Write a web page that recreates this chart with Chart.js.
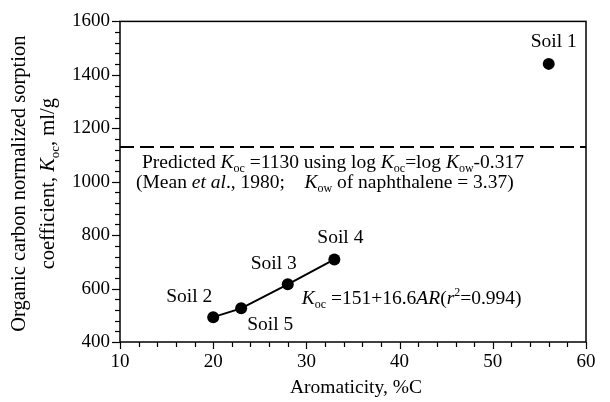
<!DOCTYPE html>
<html>
<head>
<meta charset="utf-8">
<script src="https://cdn.jsdelivr.net/npm/chart.js@4.4.1/dist/chart.umd.min.js"></script>
<style>
  html, body { margin: 0; padding: 0; background: #fff; }
  #wrap { width: 610px; height: 402px; }
</style>
</head>
<body>
<div id="wrap"><canvas id="sorptionChart" width="610" height="402"></canvas></div>
<script>
// DATA
const soilNames = ["Soil 2", "Soil 5", "Soil 3", "Soil 4"];
const aromaticity = [20, 23, 28, 33];
const kocValues = [493, 526, 616, 709];

const outlierName = "Soil 1";
const outlierAromaticity = [56];
const outlierKoc = [1441];

const predictedKoc = 1130;
const xRange = [10, 60];
const yRange = [400, 1600];
const xTickStep = 10, xMinorStep = 2;
const yTickStep = 200, yMinorStep = 40;

const FONT = '"Liberation Serif", "Times New Roman", serif';

//UTILS FUNCS

// draws a list of [text, style] pieces; style: n, i, sub, sup
function drawRich(ctx, parts, x, y, size, align) {
    let widths = parts.map(p => {
        ctx.font = fontFor(p[1], size);
        return ctx.measureText(p[0]).width;
    });
    let total = widths.reduce((a, b) => a + b, 0);
    let cx = align === "center" ? x - total / 2 : (align === "right" ? x - total : x);
    ctx.textBaseline = "middle";
    ctx.textAlign = "left";
    parts.forEach((p, i) => {
        ctx.font = fontFor(p[1], size);
        let dy = 0;
        if (p[1] === "sub") dy = size * 0.3;
        if (p[1] === "sup") dy = -size * 0.35;
        ctx.fillText(p[0], cx, y + dy);
        cx += widths[i];
    });
}

function fontFor(style, size) {
    if (style === "i") return "italic " + size + "px " + FONT;
    if (style === "sub" || style === "sup") return Math.round(size * 0.62) + "px " + FONT;
    return size + "px " + FONT;
}

//PLUGIN for frame, minor ticks and text
const decorations = {
    id: "decorations",
    afterDraw(chart) {
        let ctx = chart.ctx;
        let area = chart.chartArea;
        let xs = chart.scales.x, ys = chart.scales.y;
        ctx.save();
        ctx.strokeStyle = "#000";
        ctx.fillStyle = "#000";

        // frame
        ctx.lineWidth = 1.5;
        ctx.strokeRect(area.left, area.top, area.right - area.left, area.bottom - area.top);

        // y ticks (outside, left)
        ctx.lineWidth = 1.2;
        for (let v = yRange[0]; v <= yRange[1]; v += yMinorStep) {
            let py = Math.round(ys.getPixelForValue(v)) + 0.5;
            let len = (v % yTickStep === 0) ? 8 : 5;
            ctx.beginPath();
            ctx.moveTo(area.left - len, py);
            ctx.lineTo(area.left, py);
            ctx.stroke();
        }
        // x ticks (outside, down)
        for (let v = xRange[0]; v <= xRange[1]; v += xMinorStep) {
            let px = Math.round(xs.getPixelForValue(v)) + 0.5;
            let len = (v % xTickStep === 0) ? 7 : 5;
            ctx.beginPath();
            ctx.moveTo(px, area.bottom);
            ctx.lineTo(px, area.bottom + len);
            ctx.stroke();
        }

        // axis titles
        drawRich(ctx, [["Aromaticity, %C", "n"]], (area.left + area.right) / 2 + 3, 388, 19.5, "center");

        let midY = (area.top + area.bottom) / 2 + 2;
        ctx.save();
        ctx.translate(20, midY);
        ctx.rotate(-Math.PI / 2);
        drawRich(ctx, [["Organic carbon normalized sorption", "n"]], 0, 0, 20.5, "center");
        ctx.restore();
        ctx.save();
        ctx.translate(49, midY);
        ctx.rotate(-Math.PI / 2);
        drawRich(ctx, [["coefficient, ", "n"], ["K", "i"], ["oc", "sub"], [", ml/g", "n"]], 0, 0, 20.5, "center");
        ctx.restore();

        // soil labels, placed relative to their points
        let labelOffsets = {
            "Soil 2": [-1, -20, "right"],
            "Soil 5": [6, 17, "left"],
            "Soil 3": [-14, -20, "center"],
            "Soil 4": [6, -22, "center"]
        };
        soilNames.forEach((name, i) => {
            let px = xs.getPixelForValue(aromaticity[i]);
            let py = ys.getPixelForValue(kocValues[i]);
            let o = labelOffsets[name];
            drawRich(ctx, [[name, "n"]], px + o[0], py + o[1], 19.5, o[2]);
        });
        let p1x = xs.getPixelForValue(outlierAromaticity[0]);
        let p1y = ys.getPixelForValue(outlierKoc[0]);
        drawRich(ctx, [[outlierName, "n"]], p1x + 5, p1y - 22, 19.5, "center");

        // regression equation
        let eqY = ys.getPixelForValue(kocValues[2]) + 15;
        drawRich(ctx, [["K", "i"], ["oc", "sub"], [" =151+16.6", "n"], ["AR", "i"], ["(", "n"], ["r", "i"], ["2", "sup"], ["=0.994)", "n"]],
            xs.getPixelForValue(aromaticity[2]) + 14, eqY, 19.5, "left");

        // predicted text below the dashed line
        let predY = ys.getPixelForValue(predictedKoc);
        drawRich(ctx, [["Predicted ", "n"], ["K", "i"], ["oc", "sub"], [" =1130 using log ", "n"], ["K", "i"], ["oc", "sub"],
            ["=log ", "n"], ["K", "i"], ["ow", "sub"], ["-0.317", "n"]], area.left + 22, predY + 16, 19.5, "left");
        drawRich(ctx, [["(Mean ", "n"], ["et al", "i"], ["., 1980;    ", "n"], ["K", "i"], ["ow", "sub"], [" of naphthalene = 3.37)", "n"]],
            area.left + 16, predY + 36, 19.5, "left");

        ctx.restore();
    }
};

//CHART
let ctx = document.getElementById("sorptionChart").getContext("2d");

let sorptionChart = new Chart(ctx, {
    type: "scatter",
    data: {
        datasets: [
            {
                label: "Fit",
                data: aromaticity.map((x, i) => ({ x: x, y: kocValues[i] })),
                showLine: true,
                borderColor: "#000",
                borderWidth: 2,
                backgroundColor: "#000",
                pointRadius: 6,
                pointBorderWidth: 0
            },
            {
                label: outlierName,
                data: outlierAromaticity.map((x, i) => ({ x: x, y: outlierKoc[i] })),
                backgroundColor: "#000",
                borderColor: "#000",
                pointRadius: 6,
                pointBorderWidth: 0
            },
            {
                label: "Predicted",
                data: [{ x: xRange[0], y: predictedKoc }, { x: xRange[1], y: predictedKoc }],
                showLine: true,
                borderColor: "#000",
                borderWidth: 2,
                borderDash: [14, 6],
                pointRadius: 0
            }
        ]
    },
    options: {
        responsive: false,
        animation: false,
        layout: { padding: { top: 19, right: 24, left: 0, bottom: 0 } },
        plugins: {
            legend: { display: false },
            tooltip: { enabled: false }
        },
        scales: {
            x: {
                type: "linear",
                min: xRange[0],
                max: xRange[1],
                afterFit: s => { s.height = 60; },
                grid: { display: false, drawTicks: false },
                border: { display: false },
                ticks: {
                    stepSize: xTickStep,
                    padding: 9,
                    color: "#000",
                    font: { family: FONT, size: 19 },
                    callback: v => String(v)
                }
            },
            y: {
                type: "linear",
                min: yRange[0],
                max: yRange[1],
                afterFit: s => { s.width = 120; },
                grid: { display: false, drawTicks: false },
                border: { display: false },
                ticks: {
                    stepSize: yTickStep,
                    padding: 10,
                    color: "#000",
                    font: { family: FONT, size: 19 },
                    callback: v => String(v)
                }
            }
        }
    },
    plugins: [decorations]
});
</script>
</body>
</html>
